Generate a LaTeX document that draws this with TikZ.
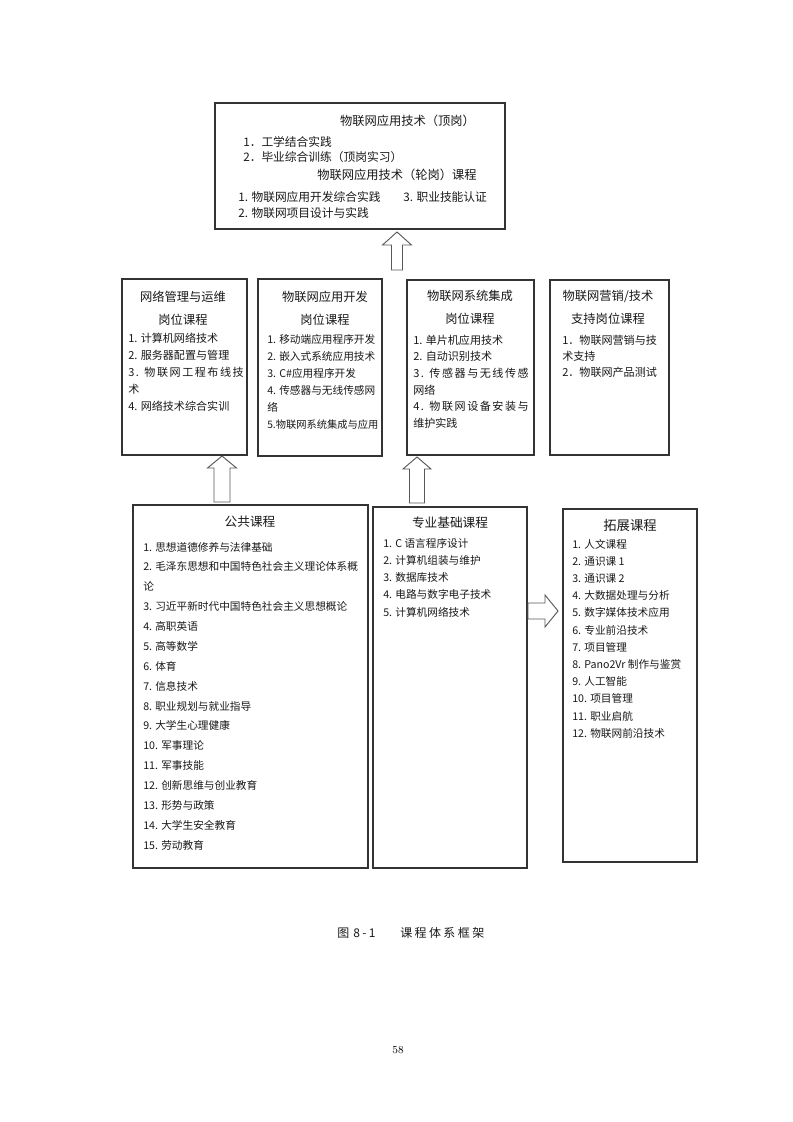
\documentclass[tikz,border=0pt]{standalone}
\usepackage{fontspec}
\newfontfamily\cjk{Noto Sans CJK SC}
\begin{document}
\begin{tikzpicture}[x=0.75pt,y=-0.75pt,
  box/.style={draw=black!80, line width=0.85pt, fill=white, inner sep=0pt},
  blockarrow/.style={draw=black!65, line width=0.7pt, fill=white, line join=miter},
  ttl/.style={font=\cjk\fontsize{9.2}{11}\selectfont, inner sep=0pt, text=black!90, anchor=center},
  bigttl/.style={font=\cjk\fontsize{9.5}{11}\selectfont, inner sep=0pt, text=black!90, anchor=center},
  item/.style={font=\cjk\fontsize{8}{10}\selectfont, inner sep=0pt, text=black!90, anchor=west},
  mitem/.style={font=\cjk\fontsize{8.3}{10}\selectfont, inner sep=0pt, text=black!90, anchor=west},
  wide/.style={font=\cjk\fontsize{8.3}{10}\selectfont\addfontfeature{LetterSpace=14}},
  topitem/.style={font=\cjk\fontsize{8.8}{10}\selectfont, inner sep=0pt, text=black!90, anchor=west},
  pics/uparrow/.style args={#1/#2/#3/#4}{code={
    \draw[blockarrow] (-#3,0) -- (-#3,-#1+#2) -- (-#4,-#1+#2) -- (0,-#1)
      -- (#4,-#1+#2) -- (#3,-#1+#2) -- (#3,0) -- cycle;}},
  pics/rightarrow/.style args={#1/#2/#3/#4}{code={
    \draw[blockarrow] (0,-#3) -- (#1-#2,-#3) -- (#1-#2,-#4) -- (#1,0)
      -- (#1-#2,#4) -- (#1-#2,#3) -- (0,#3) -- cycle;}}
]
\useasboundingbox[fill=white] (0,0) rectangle (793,1122);

% ---------- boxes ----------
\node[box, minimum width=290*0.75pt, minimum height=126*0.75pt] (top) at (360,166) {};
\node[box, minimum width=125*0.75pt, minimum height=176*0.75pt] (m1) at (184.5,367) {};
\node[box, minimum width=124*0.75pt, minimum height=177*0.75pt] (m2) at (320,367.5) {};
\node[box, minimum width=127*0.75pt, minimum height=175*0.75pt] (m3) at (470.5,367.5) {};
\node[box, minimum width=119*0.75pt, minimum height=175*0.75pt] (m4) at (609.5,367.5) {};
\node[box, minimum width=235*0.75pt, minimum height=363*0.75pt] (b1) at (250.5,686.5) {};
\node[box, minimum width=154*0.75pt, minimum height=361*0.75pt] (b2) at (450,687.5) {};
\node[box, minimum width=134*0.75pt, minimum height=353*0.75pt] (b3) at (630,685.5) {};

% ---------- block arrows ----------
\coordinate (a0) at (397,270);
\coordinate (a1) at (222,502);
\coordinate (a2) at (417,503);
\coordinate (a3) at (528,611);
\pic at (a0) {uparrow={38/13/5.5/14.5}};
\pic at (a1) {uparrow={46/12/8/14.5}};
\pic at (a2) {uparrow={46/12/7.5/14}};
\pic at (a3) {rightarrow={30/13/8/16}};

% ---------- top box ----------
\node[ttl] (t1) at (407.5,121) {物联网应用技术（顶岗）};
\node[topitem] (t2) at (243,142) {1．工学结合实践};
\node[topitem] (t3) at (243,157) {2．毕业综合训练（顶岗实习）};
\node[ttl] (t4) at (397,175) {物联网应用技术（轮岗）课程};
\node[topitem] (t5) at (238,197) {1. 物联网应用开发综合实践};
\node[topitem] (t6) at (403,197) {3. 职业技能认证};
\node[topitem] (t7) at (238,213) {2. 物联网项目设计与实践};

% ---------- middle boxes ----------
\node[ttl] (m1h1) at (183,297) {网络管理与运维};
\node[ttl] (m1h2) at (183,320) {岗位课程};
\node[mitem] (m1i1) at (128,338) {1. 计算机网络技术};
\node[mitem] (m1i2) at (128,355) {2. 服务器配置与管理};
\node[mitem, wide] (m1i3) at (128,372) {3. 物联网工程布线技};
\node[mitem] (m1i4) at (128,389) {术};
\node[mitem] (m1i5) at (128,406) {4. 网络技术综合实训};

\node[ttl] (m2h1) at (325,297) {物联网应用开发};
\node[ttl] (m2h2) at (325,320) {岗位课程};
\foreach \s [count=\i] in {1. 移动端应用程序开发, 2. 嵌入式系统应用技术, 3. C\#应用程序开发, 4. 传感器与无线传感网, 络}
  \node[item] (m2i\i) at (267,{339+(\i-1)*17.2}) {\s};
\node[mitem, font=\cjk\fontsize{7.7}{10}\selectfont] (m2i6) at (267,425) {5.物联网系统集成与应用};

\node[ttl] (m3h1) at (470,296) {物联网系统集成};
\node[ttl] (m3h2) at (470,319) {岗位课程};
\node[mitem] (m3i1) at (413,340) {1. 单片机应用技术};
\node[mitem] (m3i2) at (413,356.6) {2. 自动识别技术};
\node[mitem, wide] (m3i3) at (413,373.2) {3. 传感器与无线传感};
\node[mitem] (m3i4) at (413,389.8) {网络};
\node[mitem, wide] (m3i5) at (413,406.4) {4. 物联网设备安装与};
\node[mitem] (m3i6) at (413,423) {维护实践};

\node[ttl] (m4h1) at (608,296) {物联网营销/技术};
\node[ttl] (m4h2) at (608,319) {支持岗位课程};
\node[mitem] (m4i1) at (562,340) {1．物联网营销与技};
\node[mitem] (m4i2) at (562,356) {术支持};
\node[mitem] (m4i3) at (562,372) {2．物联网产品测试};

% ---------- bottom boxes ----------
\node[bigttl] (b1h) at (250,522) {公共课程};
\foreach \s [count=\i] in {1. 思想道德修养与法律基础, 2. 毛泽东思想和中国特色社会主义理论体系概, 论, 3. 习近平新时代中国特色社会主义思想概论, 4. 高职英语, 5. 高等数学, 6. 体育, 7. 信息技术, 8. 职业规划与就业指导, 9. 大学生心理健康, 10. 军事理论, 11. 军事技能, 12. 创新思维与创业教育, 13. 形势与政策, 14. 大学生安全教育, 15. 劳动教育}
  \node[item] (b1i\i) at (143,{547+(\i-1)*19.87}) {\s};

\node[bigttl] (b2h) at (450,523) {专业基础课程};
\foreach \s [count=\i] in {1. C 语言程序设计, 2. 计算机组装与维护, 3. 数据库技术, 4. 电路与数字电子技术, 5. 计算机网络技术}
  \node[item] (b2i\i) at (383,{543+(\i-1)*17.25}) {\s};

\node[bigttl, font=\cjk\fontsize{10}{12}\selectfont] (b3h) at (630,525) {拓展课程};
\foreach \s [count=\i] in {1. 人文课程, 2. 通识课 1, 3. 通识课 2, 4. 大数据处理与分析, 5. 数字媒体技术应用, 6. 专业前沿技术, 7. 项目管理, 8. Pano2Vr 制作与鉴赏, 9. 人工智能, 10. 项目管理, 11. 职业启航, 12. 物联网前沿技术}
  \node[item] (b3i\i) at (572,{544+(\i-1)*17.2}) {\s};

% ---------- caption and page number ----------
\node[item, font=\cjk\fontsize{9}{11}\selectfont\addfontfeature{LetterSpace=20}] (capA) at (337,933) {图\hspace{3pt}8-1};
\node[item, font=\cjk\fontsize{9}{11}\selectfont\addfontfeature{LetterSpace=20}] (capB) at (400,933) {课程体系框架};
\node[inner sep=0pt, font=\fontsize{8}{10}\selectfont] (pg) at (398,1050) {58};
\end{tikzpicture}
\end{document}
